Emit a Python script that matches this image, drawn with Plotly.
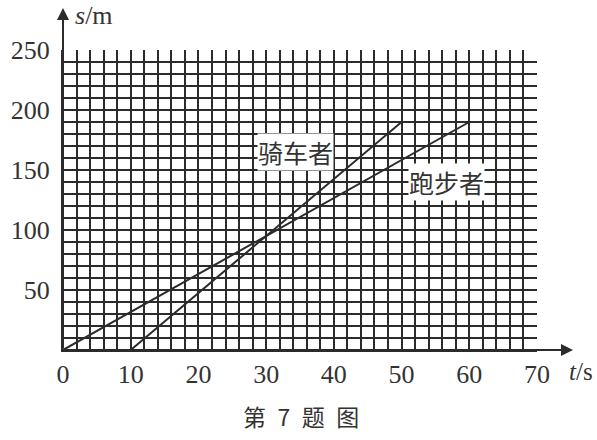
import plotly.graph_objects as go

# data
rider_t = [10, 50]
rider_s = [0, 190]
runner_t = [0, 60]
runner_s = [0, 190]
x_ticks = [0, 10, 20, 30, 40, 50, 60, 70]
y_ticks = [50, 100, 150, 200, 250]

INK = "#2b2b2b"
SERIF = "Liberation Serif, Times New Roman, serif"
CJK = "Noto Sans CJK SC"

fig = go.Figure()
fig.add_trace(go.Scatter(x=rider_t, y=rider_s, mode="lines",
                         line=dict(color=INK, width=2), showlegend=False))
fig.add_trace(go.Scatter(x=runner_t, y=runner_s, mode="lines",
                         line=dict(color=INK, width=2), showlegend=False))

fig.update_layout(
    width=597, height=440,
    margin=dict(l=63, r=60, t=50, b=90, autoexpand=False),
    paper_bgcolor="white", plot_bgcolor="white",
    showlegend=False,
    xaxis=dict(range=[0, 70], tickvals=x_ticks, ticktext=[str(v) for v in x_ticks],
               showgrid=True, gridcolor=INK, gridwidth=1.6,
               minor=dict(dtick=2, showgrid=True, gridcolor=INK, gridwidth=1.6),
               zeroline=False, showline=True, linecolor=INK, linewidth=2,
               ticks="", automargin=False,
               tickfont=dict(family=SERIF, size=26, color="#333"),
               fixedrange=True),
    yaxis=dict(range=[0, 250], tickvals=y_ticks, ticktext=[str(v) for v in y_ticks],
               showgrid=True, gridcolor=INK, gridwidth=1.6,
               minor=dict(dtick=10, showgrid=True, gridcolor=INK, gridwidth=1.6),
               zeroline=False, showline=True, linecolor=INK, linewidth=2,
               ticks="", ticklabelstandoff=6, automargin=False,
               tickfont=dict(family=SERIF, size=26, color="#333"),
               fixedrange=True),
)

# axis arrows
fig.add_annotation(xref="paper", yref="paper", x=0, y=1.14, ax=0, ay=342,
                   axref="pixel", ayref="pixel", text="", showarrow=True,
                   arrowhead=2, arrowsize=1.2, arrowwidth=2, arrowcolor=INK)
fig.add_annotation(xref="paper", yref="paper", x=1.076, y=0, ax=-510, ay=0,
                   text="", showarrow=True,
                   arrowhead=2, arrowsize=1.2, arrowwidth=2, arrowcolor=INK)

# axis titles
fig.add_annotation(xref="paper", yref="paper", x=0.022, y=1.115, xanchor="left",
                   yanchor="middle", showarrow=False,
                   text="<i>s</i>/m", font=dict(family=SERIF, size=26, color="#333"))
fig.add_annotation(xref="paper", yref="paper", x=1.063, y=-0.07, xanchor="left",
                   yanchor="middle", showarrow=False,
                   text="<i>t</i>/s", font=dict(family=SERIF, size=25, color="#333"))

# line labels
fig.add_annotation(x=34.4, y=165, showarrow=False, text="骑车者",
                   bgcolor="white", borderpad=0,
                   font=dict(family=CJK, size=25, color="#333"))
fig.add_annotation(x=56.7, y=140, showarrow=False, text="跑步者",
                   bgcolor="white", borderpad=0,
                   font=dict(family=CJK, size=25, color="#333"))

# caption
fig.add_annotation(xref="paper", yref="paper", x=0.503, y=-0.283,
                   showarrow=False, text="第\u20027\u2002题\u2002图",
                   font=dict(family=CJK, size=23, color="#333"))

fig.write_html("out.html", config={"displayModeBar": False},
               post_script="document.body.style.margin='0';")
